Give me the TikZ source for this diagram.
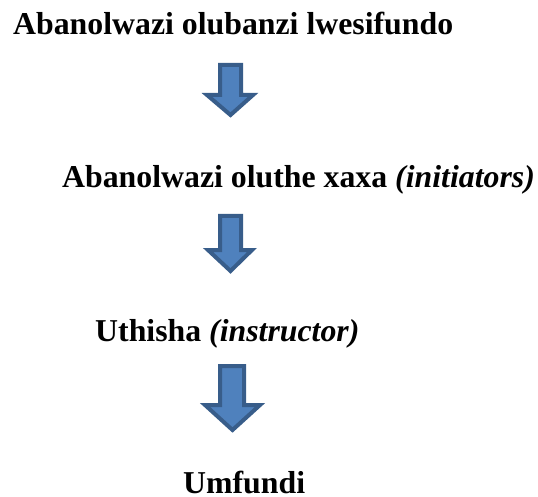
\documentclass[tikz,border=0pt]{standalone}
\usepackage{fontspec}
\setmainfont{Liberation Serif}
\usepackage{tikz}

\definecolor{arrowfill}{RGB}{79,129,189}
\definecolor{arrowline}{RGB}{56,93,138}

\begin{document}
\begin{tikzpicture}[
            x=1pt, y=-1pt, % 1 unit = 1 pixel, y downwards
            level/.style={
                anchor=base west, % place by the baseline
                inner sep=0, % no padding
                font=\fontsize{31.8}{38}\selectfont\bfseries % bold serif
            },
            blockarrow/.style={
                fill=arrowfill, % blue body
                draw=arrowline, % darker border
                line width=4pt, % thick border
                line join=miter
            }
        ]
        \useasboundingbox (0,0) rectangle (538,497);

        % the four levels
        \node[level] (olubanzi) at (13,35) {Abanolwazi olubanzi lwesifundo};
        \node[level] (xaxa) at (62,188) {Abanolwazi oluthe xaxa \textit{(initiators)}};
        \node[level] (uthisha) at (95,341) {Uthisha \textit{(instructor)}};
        \node[level] (umfundi) at (183,493) {Umfundi};

        % block arrows between the levels
        \coordinate (a1) at (220,65);
        \draw[blockarrow] (a1) -- ++(21,0) -- ++(0,30) -- ++(12,0) -- (230.5,115)
            -- (207,95) -- (220,95) -- cycle;
        \coordinate (a2) at (220,216);
        \draw[blockarrow] (a2) -- ++(21,0) -- ++(0,34) -- ++(11,0) -- (230.5,271)
            -- (208,250) -- (220,250) -- cycle;
        \coordinate (a3) at (220,366);
        \draw[blockarrow] (a3) -- ++(24,0) -- ++(0,39) -- ++(16,0) -- (232.5,430)
            -- (205,405) -- (220,405) -- cycle;
\end{tikzpicture}
\end{document}
